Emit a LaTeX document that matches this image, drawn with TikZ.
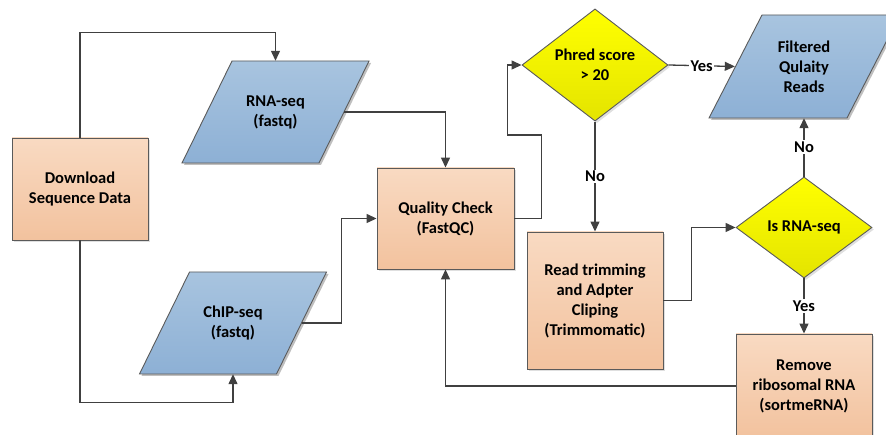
\documentclass[tikz,border=0pt]{standalone}
\usepackage{fontspec}
\setmainfont{Carlito}
\usetikzlibrary{arrows.meta,shapes.geometric,shadows}
\definecolor{peachT}{RGB}{249,218,194}
\definecolor{peachB}{RGB}{242,194,158}
\definecolor{bluT}{RGB}{168,196,223}
\definecolor{bluB}{RGB}{141,176,213}
\definecolor{yelT}{RGB}{255,255,0}
\definecolor{yelB}{RGB}{228,228,0}
\definecolor{edge}{RGB}{90,90,90}
\definecolor{wire}{RGB}{64,64,64}
\begin{document}
\begin{tikzpicture}[x=1pt,y=-1pt]
\tikzset{
  txt/.style={font=\bfseries\fontsize{16.5}{20}\selectfont, text=black, align=center},
  shad/.style={drop shadow={opacity=0.25,shadow xshift=2pt,shadow yshift=-2pt}},
  box/.style={txt, shad, draw=edge, line width=0.9pt, top color=peachT, bottom color=peachB, inner sep=0pt},
  decision/.style={txt, shad, diamond, draw=edge, line width=0.9pt, top color=yelT, bottom color=yelB, inner sep=0pt},
  para/.style={draw=edge, line width=0.9pt, top color=bluT, bottom color=bluB},
  parashadow/.style={fill=black, opacity=0.25},
  paratext/.style={txt, minimum width=137pt, minimum height=102pt, inner sep=0pt},
  conn/.style={draw=wire, line width=1.3pt, -{Triangle[length=10pt,width=9pt]}},
  lbl/.style={txt, fill=white, inner sep=1.5pt}
}
\useasboundingbox (0,0) rectangle (886,435);

% parallelogram shapes
\fill[parashadow] (234,63) -- (371,63) -- (321,165) -- (184,165) -- cycle;
\path[para] (232,61) -- (369,61) -- (319,163) -- (182,163) -- cycle;
\fill[parashadow] (191.5,274) -- (328.5,274) -- (278.5,376) -- (141.5,376) -- cycle;
\path[para] (189.5,272) -- (326.5,272) -- (276.5,374) -- (139.5,374) -- cycle;
\fill[parashadow] (764,17) -- (902,17) -- (849,120) -- (711,120) -- cycle;
\path[para] (762,15) -- (900,15) -- (847,118) -- (709,118) -- cycle;

% nodes
\node[box, minimum width=136pt, minimum height=102pt] (dl) at (80,189) {Download\\Sequence Data};
\node[paratext] (rna) at (275.5,112) {RNA-seq\\(fastq)};
\node[paratext] (chip) at (233,323) {ChIP-seq\\(fastq)};
\node[box, minimum width=137pt, minimum height=101pt] (qc) at (445.5,218.5) {Quality Check\\(FastQC)};
\node[decision, minimum width=146pt, minimum height=110pt] (phred) at (595,65) {Phred score\\> 20};
\node[txt, minimum width=138pt, minimum height=103pt, inner sep=0pt] (filt) at (804,66.5) {Filtered\\Qulaity\\Reads};
\node[box, minimum width=136pt, minimum height=137pt] (trim) at (595,300.5) {Read trimming\\and Adpter\\Cliping\\(Trimmomatic)};
\node[decision, minimum width=136pt, minimum height=101pt] (isrna) at (804,227.5) {Is RNA-seq};
\node[box, minimum width=136pt, minimum height=104pt] (rem) at (804,386) {Remove\\ribosomal RNA\\(sortmeRNA)};

% connectors
\draw[conn] (dl.north) -- ++(0,-105) -| (rna.north);
\draw[conn] (rna.east) -| (qc.north);
\draw[conn] (dl.south) -- ++(0,162) -| (chip.south);
\draw[conn] (chip.east) -- ++(40,0) |- (qc.west);
\draw[conn] (qc.east) -- ++(27,0) -- ++(0,-83.5) -- ++(-34,0) |- (phred.west);
\draw[conn] (phred.east) -- node[lbl] {Yes} (filt.west);
\draw[conn] (phred.south) -- node[lbl] {No} (trim.north);
\draw[conn] (trim.east) -- ++(28,0) |- (isrna.west);
\draw[conn] (isrna.north) -- node[lbl] {No} (filt.south);
\draw[conn] (isrna.south) -- node[lbl] {Yes} (rem.north);
\draw[conn] (rem.west) -| (qc.south);
\end{tikzpicture}
\end{document}
